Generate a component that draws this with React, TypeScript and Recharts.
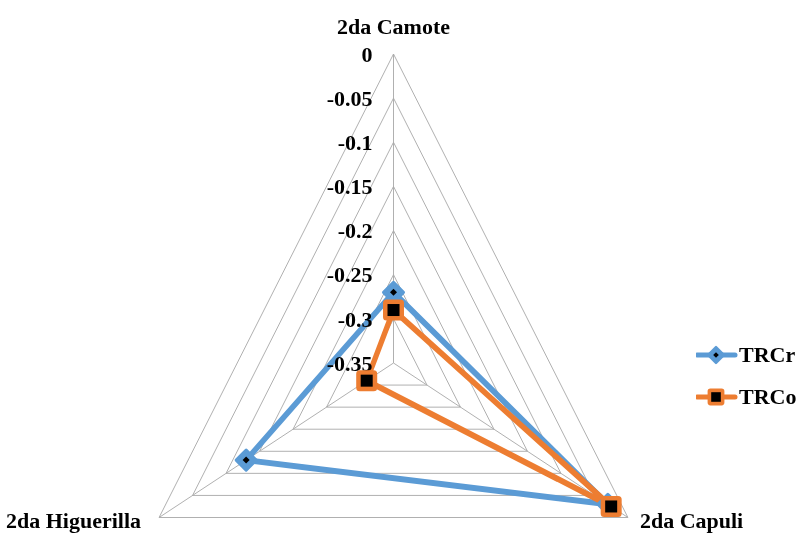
import { RadarChart, Radar, PolarGrid, PolarAngleAxis, PolarRadiusAxis } from "recharts";

const categories = ["2da Camote", "2da Capuli", "2da Higuerilla"];
const trcr = [-0.27, -0.03, -0.13];
const trco = [-0.29, -0.025, -0.31];
const radiusTicks = [-0.35, -0.3, -0.25, -0.2, -0.15, -0.1, -0.05, 0];

const data = categories.map((name, i) => ({ name, TRCr: trcr[i], TRCo: trco[i] }));

// excel draws this one squeezed sideways, so the svg is scaled and texts/markers un-scaled
const SX = 0.876;
const CX = 393.5;
const FONT = "'Liberation Serif', 'Times New Roman', serif";
const BLUE = "#5B9BD5";
const ORANGE = "#ED7D31";

const fmt = (v: number) => String(Number(v.toFixed(2)));

const AngleTick = ({ x, y, payload }: any) => {
  const i = categories.indexOf(payload.value);
  let anchor = "middle";
  let dx = 0;
  let dy = -12;
  if (i === 1) {
    anchor = "start";
    dx = 6;
    dy = 6;
  } else if (i === 2) {
    anchor = "end";
    dx = -12;
    dy = 6;
  }
  return (
    <g transform={`translate(${x},${y}) scale(${1 / SX},1)`}>
      <text x={dx} y={dy} textAnchor={anchor} fontFamily={FONT} fontWeight="bold" fontSize={22} fill="#000">
        {payload.value}
      </text>
    </g>
  );
};

const RadiusTick = ({ x, y, payload }: any) => (
  <g transform={`translate(${x},${y}) scale(${1 / SX},1)`}>
    <text x={-21} y={0} dy="0.35em" textAnchor="end" fontFamily={FONT} fontWeight="bold" fontSize={22} fill="#000">
      {fmt(payload.value)}
    </text>
  </g>
);

const Diamond = ({ size = 1 }: { size?: number }) => (
  <g transform={`scale(${size})`}>
    <polygon points="0,-10 10,0 0,10 -10,0" fill={BLUE} stroke={BLUE} strokeWidth={3} strokeLinejoin="round" />
    <polygon points="0,-3.5 3.5,0 0,3.5 -3.5,0" fill="#000" />
  </g>
);

const Square = ({ size = 1 }: { size?: number }) => (
  <g transform={`scale(${size})`}>
    <rect x={-9} y={-9} width={18} height={18} rx={2} fill={ORANGE} stroke={ORANGE} strokeWidth={3} />
    <rect x={-6} y={-6} width={12} height={12} fill="#000" />
  </g>
);

const blueDot = (p: any) => (
  <g key={`b${p.index}`} transform={`translate(${p.cx},${p.cy}) scale(${1 / SX},1)`}>
    <Diamond />
  </g>
);

const orangeDot = (p: any) => (
  <g key={`o${p.index}`} transform={`translate(${p.cx},${p.cy}) scale(${1 / SX},1)`}>
    <Square />
  </g>
);

const legendItems = [
  { name: "TRCr", color: BLUE, Icon: Diamond, top: 355 },
  { name: "TRCo", color: ORANGE, Icon: Square, top: 397 },
];

export default function App() {
  return (
    <div style={{ position: "absolute", left: 0, top: 0, width: 800, height: 537, background: "#fff", overflow: "hidden" }}>
      <style>{`.recharts-surface, .recharts-wrapper { overflow: visible !important; }`}</style>
      <div style={{ transform: `scaleX(${SX})`, transformOrigin: `${CX}px 0px`, width: 800, height: 537 }}>
        <RadarChart
          width={800}
          height={537}
          data={data}
          cx={CX}
          cy={363}
          outerRadius={309}
          margin={{ top: 0, right: 0, bottom: 0, left: 0 }}
        >
          <PolarGrid gridType="polygon" stroke="#ababab" strokeWidth={1} />
          <PolarAngleAxis dataKey="name" tick={AngleTick} tickLine={false} axisLine={false} />
          <PolarRadiusAxis
            angle={90}
            domain={[-0.35, 0]}
            ticks={radiusTicks as any}
            tickCount={8}
            tick={RadiusTick}
            axisLine={false}
            tickLine={false}
          />
          <Radar
            dataKey="TRCr"
            stroke={BLUE}
            strokeWidth={6}
            strokeLinejoin="round"
            fill="none"
            fillOpacity={0}
            dot={blueDot}
            isAnimationActive={false}
          />
          <Radar
            dataKey="TRCo"
            stroke={ORANGE}
            strokeWidth={6}
            strokeLinejoin="round"
            fill="none"
            fillOpacity={0}
            dot={orangeDot}
            isAnimationActive={false}
          />
        </RadarChart>
      </div>
      {legendItems.map(({ name, color, Icon, top }) => (
        <div key={name} style={{ position: "absolute", left: 696, top: top - 12, height: 24, display: "flex", alignItems: "center" }}>
          <svg width={42} height={24}>
            <line x1={1} y1={12} x2={39} y2={12} stroke={color} strokeWidth={5} strokeLinecap="round" />
            <g transform="translate(20,12)">
              <Icon size={0.8} />
            </g>
          </svg>
          <span style={{ fontFamily: FONT, fontWeight: "bold", fontSize: 22, color: "#000", lineHeight: "24px", marginLeft: 1 }}>
            {name}
          </span>
        </div>
      ))}
    </div>
  );
}
